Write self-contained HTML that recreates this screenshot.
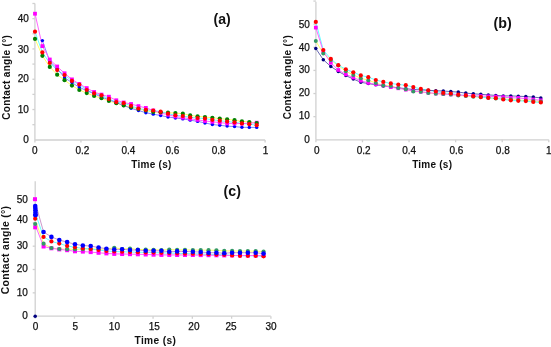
<!DOCTYPE html>
<html><head><meta charset="utf-8"><style>
html,body{margin:0;padding:0;background:#fff;}
svg{display:block;filter:blur(0.35px);}
text{font-family:"Liberation Sans",sans-serif;fill:#111;}
text.n{stroke:#111;stroke-width:0.25px;}
</style></head><body>
<svg width="551" height="347" viewBox="0 0 551 347">
<rect width="551" height="347" fill="#fff"/>
<line x1="34.9" y1="3.5" x2="34.9" y2="140.0" stroke="#d0d0d0" stroke-width="1.3"/>
<line x1="34.9" y1="140.0" x2="265.1" y2="140.0" stroke="#d0d0d0" stroke-width="1.3"/>
<line x1="32.4" y1="124.69" x2="34.9" y2="124.69" stroke="#d0d0d0" stroke-width="1.3"/>
<line x1="32.4" y1="109.54" x2="34.9" y2="109.54" stroke="#d0d0d0" stroke-width="1.3"/>
<line x1="32.4" y1="94.39" x2="34.9" y2="94.39" stroke="#d0d0d0" stroke-width="1.3"/>
<line x1="32.4" y1="79.24" x2="34.9" y2="79.24" stroke="#d0d0d0" stroke-width="1.3"/>
<line x1="32.4" y1="64.09" x2="34.9" y2="64.09" stroke="#d0d0d0" stroke-width="1.3"/>
<line x1="32.4" y1="48.94" x2="34.9" y2="48.94" stroke="#d0d0d0" stroke-width="1.3"/>
<line x1="32.4" y1="33.79" x2="34.9" y2="33.79" stroke="#d0d0d0" stroke-width="1.3"/>
<line x1="32.4" y1="18.64" x2="34.9" y2="18.64" stroke="#d0d0d0" stroke-width="1.3"/>
<line x1="32.4" y1="3.49" x2="34.9" y2="3.49" stroke="#d0d0d0" stroke-width="1.3"/>
<line x1="34.90" y1="140.0" x2="34.90" y2="142.5" stroke="#d0d0d0" stroke-width="1.3"/>
<line x1="80.94" y1="140.0" x2="80.94" y2="142.5" stroke="#d0d0d0" stroke-width="1.3"/>
<line x1="126.98" y1="140.0" x2="126.98" y2="142.5" stroke="#d0d0d0" stroke-width="1.3"/>
<line x1="173.02" y1="140.0" x2="173.02" y2="142.5" stroke="#d0d0d0" stroke-width="1.3"/>
<line x1="219.06" y1="140.0" x2="219.06" y2="142.5" stroke="#d0d0d0" stroke-width="1.3"/>
<line x1="265.10" y1="140.0" x2="265.10" y2="142.5" stroke="#d0d0d0" stroke-width="1.3"/>
<text class="n" x="28.80" y="142.95" font-size="10" text-anchor="end" font-weight="normal" >0</text>
<text class="n" x="28.80" y="113.25" font-size="10" text-anchor="end" font-weight="normal" >10</text>
<text class="n" x="28.80" y="82.05" font-size="10" text-anchor="end" font-weight="normal" >20</text>
<text class="n" x="28.80" y="53.00" font-size="10" text-anchor="end" font-weight="normal" >30</text>
<text class="n" x="28.80" y="21.75" font-size="10" text-anchor="end" font-weight="normal" >40</text>
<text class="n" x="34.80" y="153.85" font-size="10" text-anchor="middle" font-weight="normal" >0</text>
<text class="n" x="82.40" y="153.85" font-size="10" text-anchor="middle" font-weight="normal" >0.2</text>
<text class="n" x="128.40" y="153.85" font-size="10" text-anchor="middle" font-weight="normal" >0.4</text>
<text class="n" x="172.40" y="153.85" font-size="10" text-anchor="middle" font-weight="normal" >0.6</text>
<text class="n" x="218.60" y="153.85" font-size="10" text-anchor="middle" font-weight="normal" >0.8</text>
<text class="n" x="265.60" y="153.85" font-size="10" text-anchor="middle" font-weight="normal" >1</text>
<text x="151.30" y="167.60" font-size="10" text-anchor="middle" font-weight="bold" textLength="40.2" lengthAdjust="spacing">Time (s)</text>
<text x="10.00" y="77.40" font-size="10" text-anchor="middle" font-weight="bold" transform="rotate(-90 10.0 77.4)" textLength="84.6" lengthAdjust="spacing">Contact angle (°)</text>
<text x="222.20" y="23.90" font-size="14" text-anchor="middle" font-weight="bold" textLength="17.2" lengthAdjust="spacingAndGlyphs">(a)</text>
<polyline points="35.00,38.90 42.39,55.80 49.78,66.90 57.17,74.70 64.56,80.20 71.95,85.60 79.34,90.00 86.73,93.10 94.12,96.00 101.51,98.20 108.90,101.00 116.29,103.20 123.68,105.40 131.07,107.20 138.46,109.00 145.85,110.50 153.24,112.00 160.63,112.35 168.02,112.70 175.41,113.10 182.80,113.70 190.19,115.40 197.58,116.30 204.97,117.05 212.36,117.80 219.75,118.55 227.14,119.30 234.53,120.20 241.92,121.30 249.31,122.00 256.70,123.10" fill="none" stroke="#ffff66" stroke-width="1.0" stroke-opacity="1.0" stroke-linejoin="round"/>
<polyline points="35.00,31.70 42.39,52.40 49.78,63.00 57.17,70.10 64.56,75.10 71.95,80.90 79.34,84.50 86.73,90.00 94.12,93.40 101.51,95.30 108.90,98.90 116.29,102.10 123.68,103.20 131.07,105.80 138.46,108.50 145.85,109.80 153.24,110.50 160.63,111.70 168.02,113.70 175.41,115.30 182.80,116.00 190.19,117.30 197.58,118.00 204.97,118.60 212.36,119.80 219.75,120.70 227.14,121.60 234.53,122.30 241.92,123.40 249.31,124.20 256.70,125.20" fill="none" stroke="#66ffff" stroke-width="1.0" stroke-opacity="1.0" stroke-linejoin="round"/>
<polyline points="42.39,40.60 49.78,61.50 57.17,68.50 64.56,77.70 71.95,82.55 79.34,87.40 86.73,90.60 94.12,93.80 101.51,97.00 108.90,99.83 116.29,102.65 123.68,105.47 131.07,108.30 138.46,110.50 145.85,112.70 153.24,114.13 160.63,115.57 168.02,117.00 175.41,117.95 182.80,118.90 190.19,120.15 197.58,121.40 204.97,122.95 212.36,124.50 219.75,125.30 227.14,126.10 234.53,126.60 241.92,127.30 249.31,127.40 256.70,127.40" fill="none" stroke="#6666ff" stroke-width="0.8" stroke-opacity="1.0" stroke-linejoin="round"/>
<polyline points="35.00,13.70 42.39,46.10 49.78,59.50 57.17,66.50 64.56,73.30 71.95,79.40 79.34,84.00 86.73,88.10 94.12,92.00 101.51,94.60 108.90,96.70 116.29,100.30 123.68,102.50 131.07,104.00 138.46,106.10 145.85,107.90 153.24,110.45 160.63,113.00 168.02,114.75 175.41,116.50 182.80,117.65 190.19,118.80 197.58,119.90 204.97,121.00 212.36,121.80 219.75,122.60 227.14,123.40 234.53,123.50 241.92,123.60 249.31,123.15 256.70,122.70" fill="none" stroke="#ff66ff" stroke-width="1.0" stroke-opacity="1.0" stroke-linejoin="round"/>
<circle cx="42.39" cy="40.60" r="1.7" fill="#0000ff"/>
<circle cx="49.78" cy="61.50" r="1.7" fill="#0000ff"/>
<circle cx="57.17" cy="68.50" r="1.7" fill="#0000ff"/>
<circle cx="64.56" cy="77.70" r="1.7" fill="#0000ff"/>
<circle cx="71.95" cy="82.55" r="1.7" fill="#0000ff"/>
<circle cx="79.34" cy="87.40" r="1.7" fill="#0000ff"/>
<circle cx="86.73" cy="90.60" r="1.7" fill="#0000ff"/>
<circle cx="94.12" cy="93.80" r="1.7" fill="#0000ff"/>
<circle cx="101.51" cy="97.00" r="1.7" fill="#0000ff"/>
<circle cx="108.90" cy="99.83" r="1.7" fill="#0000ff"/>
<circle cx="116.29" cy="102.65" r="1.7" fill="#0000ff"/>
<circle cx="123.68" cy="105.47" r="1.7" fill="#0000ff"/>
<circle cx="131.07" cy="108.30" r="1.7" fill="#0000ff"/>
<circle cx="138.46" cy="110.50" r="1.7" fill="#0000ff"/>
<circle cx="145.85" cy="112.70" r="1.7" fill="#0000ff"/>
<circle cx="153.24" cy="114.13" r="1.7" fill="#0000ff"/>
<circle cx="160.63" cy="115.57" r="1.7" fill="#0000ff"/>
<circle cx="168.02" cy="117.00" r="1.7" fill="#0000ff"/>
<circle cx="175.41" cy="117.95" r="1.7" fill="#0000ff"/>
<circle cx="182.80" cy="118.90" r="1.7" fill="#0000ff"/>
<circle cx="190.19" cy="120.15" r="1.7" fill="#0000ff"/>
<circle cx="197.58" cy="121.40" r="1.7" fill="#0000ff"/>
<circle cx="204.97" cy="122.95" r="1.7" fill="#0000ff"/>
<circle cx="212.36" cy="124.50" r="1.7" fill="#0000ff"/>
<circle cx="219.75" cy="125.30" r="1.7" fill="#0000ff"/>
<circle cx="227.14" cy="126.10" r="1.7" fill="#0000ff"/>
<circle cx="234.53" cy="126.60" r="1.7" fill="#0000ff"/>
<circle cx="241.92" cy="127.30" r="1.7" fill="#0000ff"/>
<circle cx="249.31" cy="127.40" r="1.7" fill="#0000ff"/>
<circle cx="256.70" cy="127.40" r="1.7" fill="#0000ff"/>
<rect x="33.10" y="11.80" width="3.8" height="3.8" fill="#ff00ff"/>
<rect x="40.49" y="44.20" width="3.8" height="3.8" fill="#ff00ff"/>
<rect x="47.88" y="57.60" width="3.8" height="3.8" fill="#ff00ff"/>
<rect x="55.27" y="64.60" width="3.8" height="3.8" fill="#ff00ff"/>
<rect x="62.66" y="71.40" width="3.8" height="3.8" fill="#ff00ff"/>
<rect x="70.05" y="77.50" width="3.8" height="3.8" fill="#ff00ff"/>
<rect x="77.44" y="82.10" width="3.8" height="3.8" fill="#ff00ff"/>
<rect x="84.83" y="86.20" width="3.8" height="3.8" fill="#ff00ff"/>
<rect x="92.22" y="90.10" width="3.8" height="3.8" fill="#ff00ff"/>
<rect x="99.61" y="92.70" width="3.8" height="3.8" fill="#ff00ff"/>
<rect x="107.00" y="94.80" width="3.8" height="3.8" fill="#ff00ff"/>
<rect x="114.39" y="98.40" width="3.8" height="3.8" fill="#ff00ff"/>
<rect x="121.78" y="100.60" width="3.8" height="3.8" fill="#ff00ff"/>
<rect x="129.17" y="102.10" width="3.8" height="3.8" fill="#ff00ff"/>
<rect x="136.56" y="104.20" width="3.8" height="3.8" fill="#ff00ff"/>
<rect x="143.95" y="106.00" width="3.8" height="3.8" fill="#ff00ff"/>
<rect x="151.34" y="108.55" width="3.8" height="3.8" fill="#ff00ff"/>
<rect x="158.73" y="111.10" width="3.8" height="3.8" fill="#ff00ff"/>
<rect x="166.12" y="112.85" width="3.8" height="3.8" fill="#ff00ff"/>
<rect x="173.51" y="114.60" width="3.8" height="3.8" fill="#ff00ff"/>
<rect x="180.90" y="115.75" width="3.8" height="3.8" fill="#ff00ff"/>
<rect x="188.29" y="116.90" width="3.8" height="3.8" fill="#ff00ff"/>
<rect x="195.68" y="118.00" width="3.8" height="3.8" fill="#ff00ff"/>
<rect x="203.07" y="119.10" width="3.8" height="3.8" fill="#ff00ff"/>
<rect x="210.46" y="119.90" width="3.8" height="3.8" fill="#ff00ff"/>
<rect x="217.85" y="120.70" width="3.8" height="3.8" fill="#ff00ff"/>
<rect x="225.24" y="121.50" width="3.8" height="3.8" fill="#ff00ff"/>
<rect x="232.63" y="121.60" width="3.8" height="3.8" fill="#ff00ff"/>
<rect x="240.02" y="121.70" width="3.8" height="3.8" fill="#ff00ff"/>
<rect x="247.41" y="121.25" width="3.8" height="3.8" fill="#ff00ff"/>
<rect x="254.80" y="120.80" width="3.8" height="3.8" fill="#ff00ff"/>
<circle cx="35.00" cy="38.90" r="2.1" fill="#008000"/>
<circle cx="42.39" cy="55.80" r="2.1" fill="#008000"/>
<circle cx="49.78" cy="66.90" r="2.1" fill="#008000"/>
<circle cx="57.17" cy="74.70" r="2.1" fill="#008000"/>
<circle cx="64.56" cy="80.20" r="2.1" fill="#008000"/>
<circle cx="71.95" cy="85.60" r="2.1" fill="#008000"/>
<circle cx="79.34" cy="90.00" r="2.1" fill="#008000"/>
<circle cx="86.73" cy="93.10" r="2.1" fill="#008000"/>
<circle cx="94.12" cy="96.00" r="2.1" fill="#008000"/>
<circle cx="101.51" cy="98.20" r="2.1" fill="#008000"/>
<circle cx="108.90" cy="101.00" r="2.1" fill="#008000"/>
<circle cx="116.29" cy="103.20" r="2.1" fill="#008000"/>
<circle cx="123.68" cy="105.40" r="2.1" fill="#008000"/>
<circle cx="131.07" cy="107.20" r="2.1" fill="#008000"/>
<circle cx="138.46" cy="109.00" r="2.1" fill="#008000"/>
<circle cx="145.85" cy="110.50" r="2.1" fill="#008000"/>
<circle cx="153.24" cy="112.00" r="2.1" fill="#008000"/>
<circle cx="160.63" cy="112.35" r="2.1" fill="#008000"/>
<circle cx="168.02" cy="112.70" r="2.1" fill="#008000"/>
<circle cx="175.41" cy="113.10" r="2.1" fill="#008000"/>
<circle cx="182.80" cy="113.70" r="2.1" fill="#008000"/>
<circle cx="190.19" cy="115.40" r="2.1" fill="#008000"/>
<circle cx="197.58" cy="116.30" r="2.1" fill="#008000"/>
<circle cx="204.97" cy="117.05" r="2.1" fill="#008000"/>
<circle cx="212.36" cy="117.80" r="2.1" fill="#008000"/>
<circle cx="219.75" cy="118.55" r="2.1" fill="#008000"/>
<circle cx="227.14" cy="119.30" r="2.1" fill="#008000"/>
<circle cx="234.53" cy="120.20" r="2.1" fill="#008000"/>
<circle cx="241.92" cy="121.30" r="2.1" fill="#008000"/>
<circle cx="249.31" cy="122.00" r="2.1" fill="#008000"/>
<circle cx="256.70" cy="123.10" r="2.1" fill="#008000"/>
<circle cx="35.00" cy="31.70" r="2.1" fill="#ff0000"/>
<circle cx="42.39" cy="52.40" r="2.1" fill="#ff0000"/>
<circle cx="49.78" cy="63.00" r="2.1" fill="#ff0000"/>
<circle cx="57.17" cy="70.10" r="2.1" fill="#ff0000"/>
<circle cx="64.56" cy="75.10" r="2.1" fill="#ff0000"/>
<circle cx="71.95" cy="80.90" r="2.1" fill="#ff0000"/>
<circle cx="79.34" cy="84.50" r="2.1" fill="#ff0000"/>
<circle cx="86.73" cy="90.00" r="2.1" fill="#ff0000"/>
<circle cx="94.12" cy="93.40" r="2.1" fill="#ff0000"/>
<circle cx="101.51" cy="95.30" r="2.1" fill="#ff0000"/>
<circle cx="108.90" cy="98.90" r="2.1" fill="#ff0000"/>
<circle cx="116.29" cy="102.10" r="2.1" fill="#ff0000"/>
<circle cx="123.68" cy="103.20" r="2.1" fill="#ff0000"/>
<circle cx="131.07" cy="105.80" r="2.1" fill="#ff0000"/>
<circle cx="138.46" cy="108.50" r="2.1" fill="#ff0000"/>
<circle cx="145.85" cy="109.80" r="2.1" fill="#ff0000"/>
<circle cx="153.24" cy="110.50" r="2.1" fill="#ff0000"/>
<circle cx="160.63" cy="111.70" r="2.1" fill="#ff0000"/>
<circle cx="168.02" cy="113.70" r="2.1" fill="#ff0000"/>
<circle cx="175.41" cy="115.30" r="2.1" fill="#ff0000"/>
<circle cx="182.80" cy="116.00" r="2.1" fill="#ff0000"/>
<circle cx="190.19" cy="117.30" r="2.1" fill="#ff0000"/>
<circle cx="197.58" cy="118.00" r="2.1" fill="#ff0000"/>
<circle cx="204.97" cy="118.60" r="2.1" fill="#ff0000"/>
<circle cx="212.36" cy="119.80" r="2.1" fill="#ff0000"/>
<circle cx="219.75" cy="120.70" r="2.1" fill="#ff0000"/>
<circle cx="227.14" cy="121.60" r="2.1" fill="#ff0000"/>
<circle cx="234.53" cy="122.30" r="2.1" fill="#ff0000"/>
<circle cx="241.92" cy="123.40" r="2.1" fill="#ff0000"/>
<circle cx="249.31" cy="124.20" r="2.1" fill="#ff0000"/>
<circle cx="256.70" cy="125.20" r="2.1" fill="#ff0000"/>
<line x1="315.9" y1="1.7" x2="315.9" y2="139.8" stroke="#d0d0d0" stroke-width="1.3"/>
<line x1="315.9" y1="139.8" x2="548.8" y2="139.8" stroke="#d0d0d0" stroke-width="1.3"/>
<line x1="313.4" y1="116.66" x2="315.9" y2="116.66" stroke="#d0d0d0" stroke-width="1.3"/>
<line x1="313.4" y1="93.54" x2="315.9" y2="93.54" stroke="#d0d0d0" stroke-width="1.3"/>
<line x1="313.4" y1="70.42" x2="315.9" y2="70.42" stroke="#d0d0d0" stroke-width="1.3"/>
<line x1="313.4" y1="47.30" x2="315.9" y2="47.30" stroke="#d0d0d0" stroke-width="1.3"/>
<line x1="313.4" y1="24.18" x2="315.9" y2="24.18" stroke="#d0d0d0" stroke-width="1.3"/>
<line x1="313.4" y1="1.06" x2="315.9" y2="1.06" stroke="#d0d0d0" stroke-width="1.3"/>
<line x1="315.90" y1="139.8" x2="315.90" y2="142.3" stroke="#d0d0d0" stroke-width="1.3"/>
<line x1="362.48" y1="139.8" x2="362.48" y2="142.3" stroke="#d0d0d0" stroke-width="1.3"/>
<line x1="409.06" y1="139.8" x2="409.06" y2="142.3" stroke="#d0d0d0" stroke-width="1.3"/>
<line x1="455.64" y1="139.8" x2="455.64" y2="142.3" stroke="#d0d0d0" stroke-width="1.3"/>
<line x1="502.22" y1="139.8" x2="502.22" y2="142.3" stroke="#d0d0d0" stroke-width="1.3"/>
<line x1="548.80" y1="139.8" x2="548.80" y2="142.3" stroke="#d0d0d0" stroke-width="1.3"/>
<text class="n" x="309.80" y="142.55" font-size="10" text-anchor="end" font-weight="normal" >0</text>
<text class="n" x="309.80" y="119.45" font-size="10" text-anchor="end" font-weight="normal" >10</text>
<text class="n" x="309.80" y="95.75" font-size="10" text-anchor="end" font-weight="normal" >20</text>
<text class="n" x="309.80" y="73.35" font-size="10" text-anchor="end" font-weight="normal" >30</text>
<text class="n" x="309.80" y="51.35" font-size="10" text-anchor="end" font-weight="normal" >40</text>
<text class="n" x="309.80" y="27.55" font-size="10" text-anchor="end" font-weight="normal" >50</text>
<text class="n" x="316.80" y="153.95" font-size="10" text-anchor="middle" font-weight="normal" >0</text>
<text class="n" x="363.60" y="153.95" font-size="10" text-anchor="middle" font-weight="normal" >0.2</text>
<text class="n" x="409.20" y="153.95" font-size="10" text-anchor="middle" font-weight="normal" >0.4</text>
<text class="n" x="456.40" y="153.95" font-size="10" text-anchor="middle" font-weight="normal" >0.6</text>
<text class="n" x="502.80" y="153.95" font-size="10" text-anchor="middle" font-weight="normal" >0.8</text>
<text class="n" x="548.80" y="153.95" font-size="10" text-anchor="middle" font-weight="normal" >1</text>
<text x="432.10" y="167.50" font-size="10" text-anchor="middle" font-weight="bold" textLength="39.8" lengthAdjust="spacing">Time (s)</text>
<text x="291.00" y="77.25" font-size="10" text-anchor="middle" font-weight="bold" transform="rotate(-90 291.0 77.25)" textLength="84.0" lengthAdjust="spacing">Contact angle (°)</text>
<text x="502.70" y="28.00" font-size="14" text-anchor="middle" font-weight="bold" textLength="18.2" lengthAdjust="spacingAndGlyphs">(b)</text>
<polyline points="315.80,41.10 323.30,53.40 330.80,60.00 338.30,65.60 345.80,71.20 353.30,75.00 360.80,78.20 368.30,80.30 375.80,82.90 383.30,85.40 390.80,86.00 398.30,88.10 405.80,89.30 413.30,91.50 420.80,91.80 428.30,92.90 435.80,93.70 443.30,94.00 450.80,94.50 458.30,95.40 465.80,96.00 473.30,96.65 480.80,97.30 488.30,97.87 495.80,98.43 503.30,99.00 510.80,99.50 518.30,100.00 525.80,100.50 533.30,101.00 540.80,101.50" fill="none" stroke="#ffff66" stroke-width="1.0" stroke-opacity="1.0" stroke-linejoin="round"/>
<polyline points="315.80,21.90 323.30,50.10 330.80,58.90 338.30,65.20 345.80,69.30 353.30,72.30 360.80,75.40 368.30,77.20 375.80,80.00 383.30,81.90 390.80,83.40 398.30,84.50 405.80,85.20 413.30,87.10 420.80,88.90 428.30,90.30 435.80,91.50 443.30,92.90 450.80,93.50 458.30,94.70 465.80,95.40 473.30,96.20 480.80,97.10 488.30,97.90 495.80,98.20 503.30,99.50 510.80,100.30 518.30,100.80 525.80,101.10 533.30,102.00 540.80,102.40" fill="none" stroke="#66ffff" stroke-width="1.0" stroke-opacity="1.0" stroke-linejoin="round"/>
<polyline points="315.80,48.50 323.30,59.70 330.80,66.50 338.30,71.40 345.80,75.60 353.30,79.00 360.80,82.30 368.30,83.55 375.80,84.80 383.30,85.90 390.80,87.00 398.30,87.83 405.80,88.67 413.30,89.50 420.80,89.90 428.30,90.30 435.80,90.70 443.30,91.00 450.80,91.60 458.30,92.10 465.80,93.10 473.30,93.80 480.80,94.30 488.30,94.90 495.80,95.40 503.30,95.90 510.80,95.90 518.30,96.20 525.80,96.60 533.30,97.10 540.80,97.90" fill="none" stroke="#4040a0" stroke-width="0.8" stroke-opacity="1.0" stroke-linejoin="round"/>
<polyline points="315.80,27.60 323.30,51.50 330.80,62.80 338.30,70.00 345.80,74.40 353.30,77.50 360.80,80.70 368.30,82.90 375.80,84.30 383.30,85.50 390.80,87.10 398.30,88.30 405.80,89.65 413.30,91.00 420.80,91.83 428.30,92.67 435.80,93.50 443.30,94.00 450.80,94.50 458.30,95.00 465.80,95.50 473.30,95.78 480.80,96.05 488.30,96.32 495.80,96.60 503.30,97.10 510.80,97.90 518.30,97.90 525.80,98.70 533.30,99.50 540.80,100.30" fill="none" stroke="#ff66ff" stroke-width="1.0" stroke-opacity="1.0" stroke-linejoin="round"/>
<circle cx="315.80" cy="48.50" r="1.75" fill="#000080"/>
<circle cx="323.30" cy="59.70" r="1.75" fill="#000080"/>
<circle cx="330.80" cy="66.50" r="1.75" fill="#000080"/>
<circle cx="338.30" cy="71.40" r="1.75" fill="#000080"/>
<circle cx="345.80" cy="75.60" r="1.75" fill="#000080"/>
<circle cx="353.30" cy="79.00" r="1.75" fill="#000080"/>
<circle cx="360.80" cy="82.30" r="1.75" fill="#000080"/>
<circle cx="368.30" cy="83.55" r="1.75" fill="#000080"/>
<circle cx="375.80" cy="84.80" r="1.75" fill="#000080"/>
<circle cx="383.30" cy="85.90" r="1.75" fill="#000080"/>
<circle cx="390.80" cy="87.00" r="1.75" fill="#000080"/>
<circle cx="398.30" cy="87.83" r="1.75" fill="#000080"/>
<circle cx="405.80" cy="88.67" r="1.75" fill="#000080"/>
<circle cx="413.30" cy="89.50" r="1.75" fill="#000080"/>
<circle cx="420.80" cy="89.90" r="1.75" fill="#000080"/>
<circle cx="428.30" cy="90.30" r="1.75" fill="#000080"/>
<circle cx="435.80" cy="90.70" r="1.75" fill="#000080"/>
<circle cx="443.30" cy="91.00" r="1.75" fill="#000080"/>
<circle cx="450.80" cy="91.60" r="1.75" fill="#000080"/>
<circle cx="458.30" cy="92.10" r="1.75" fill="#000080"/>
<circle cx="465.80" cy="93.10" r="1.75" fill="#000080"/>
<circle cx="473.30" cy="93.80" r="1.75" fill="#000080"/>
<circle cx="480.80" cy="94.30" r="1.75" fill="#000080"/>
<circle cx="488.30" cy="94.90" r="1.75" fill="#000080"/>
<circle cx="495.80" cy="95.40" r="1.75" fill="#000080"/>
<circle cx="503.30" cy="95.90" r="1.75" fill="#000080"/>
<circle cx="510.80" cy="95.90" r="1.75" fill="#000080"/>
<circle cx="518.30" cy="96.20" r="1.75" fill="#000080"/>
<circle cx="525.80" cy="96.60" r="1.75" fill="#000080"/>
<circle cx="533.30" cy="97.10" r="1.75" fill="#000080"/>
<circle cx="540.80" cy="97.90" r="1.75" fill="#000080"/>
<rect x="313.95" y="25.75" width="3.7" height="3.7" fill="#ff00ff"/>
<rect x="321.45" y="49.65" width="3.7" height="3.7" fill="#ff00ff"/>
<rect x="328.95" y="60.95" width="3.7" height="3.7" fill="#ff00ff"/>
<rect x="336.45" y="68.15" width="3.7" height="3.7" fill="#ff00ff"/>
<rect x="343.95" y="72.55" width="3.7" height="3.7" fill="#ff00ff"/>
<rect x="351.45" y="75.65" width="3.7" height="3.7" fill="#ff00ff"/>
<rect x="358.95" y="78.85" width="3.7" height="3.7" fill="#ff00ff"/>
<rect x="366.45" y="81.05" width="3.7" height="3.7" fill="#ff00ff"/>
<rect x="373.95" y="82.45" width="3.7" height="3.7" fill="#ff00ff"/>
<rect x="381.45" y="83.65" width="3.7" height="3.7" fill="#ff00ff"/>
<rect x="388.95" y="85.25" width="3.7" height="3.7" fill="#ff00ff"/>
<rect x="396.45" y="86.45" width="3.7" height="3.7" fill="#ff00ff"/>
<rect x="403.95" y="87.80" width="3.7" height="3.7" fill="#ff00ff"/>
<rect x="411.45" y="89.15" width="3.7" height="3.7" fill="#ff00ff"/>
<rect x="418.95" y="89.98" width="3.7" height="3.7" fill="#ff00ff"/>
<rect x="426.45" y="90.82" width="3.7" height="3.7" fill="#ff00ff"/>
<rect x="433.95" y="91.65" width="3.7" height="3.7" fill="#ff00ff"/>
<rect x="441.45" y="92.15" width="3.7" height="3.7" fill="#ff00ff"/>
<rect x="448.95" y="92.65" width="3.7" height="3.7" fill="#ff00ff"/>
<rect x="456.45" y="93.15" width="3.7" height="3.7" fill="#ff00ff"/>
<rect x="463.95" y="93.65" width="3.7" height="3.7" fill="#ff00ff"/>
<rect x="471.45" y="93.93" width="3.7" height="3.7" fill="#ff00ff"/>
<rect x="478.95" y="94.20" width="3.7" height="3.7" fill="#ff00ff"/>
<rect x="486.45" y="94.47" width="3.7" height="3.7" fill="#ff00ff"/>
<rect x="493.95" y="94.75" width="3.7" height="3.7" fill="#ff00ff"/>
<rect x="501.45" y="95.25" width="3.7" height="3.7" fill="#ff00ff"/>
<rect x="508.95" y="96.05" width="3.7" height="3.7" fill="#ff00ff"/>
<rect x="516.45" y="96.05" width="3.7" height="3.7" fill="#ff00ff"/>
<rect x="523.95" y="96.85" width="3.7" height="3.7" fill="#ff00ff"/>
<rect x="531.45" y="97.65" width="3.7" height="3.7" fill="#ff00ff"/>
<rect x="538.95" y="98.45" width="3.7" height="3.7" fill="#ff00ff"/>
<circle cx="315.80" cy="41.10" r="2.0" fill="#339966"/>
<circle cx="323.30" cy="53.40" r="2.0" fill="#339966"/>
<circle cx="330.80" cy="60.00" r="2.0" fill="#339966"/>
<circle cx="338.30" cy="65.60" r="2.0" fill="#339966"/>
<circle cx="345.80" cy="71.20" r="2.0" fill="#339966"/>
<circle cx="353.30" cy="75.00" r="2.0" fill="#339966"/>
<circle cx="360.80" cy="78.20" r="2.0" fill="#339966"/>
<circle cx="368.30" cy="80.30" r="2.0" fill="#339966"/>
<circle cx="375.80" cy="82.90" r="2.0" fill="#339966"/>
<circle cx="383.30" cy="85.40" r="2.0" fill="#339966"/>
<circle cx="390.80" cy="86.00" r="2.0" fill="#339966"/>
<circle cx="398.30" cy="88.10" r="2.0" fill="#339966"/>
<circle cx="405.80" cy="89.30" r="2.0" fill="#339966"/>
<circle cx="413.30" cy="91.50" r="2.0" fill="#339966"/>
<circle cx="420.80" cy="91.80" r="2.0" fill="#339966"/>
<circle cx="428.30" cy="92.90" r="2.0" fill="#339966"/>
<circle cx="435.80" cy="93.70" r="2.0" fill="#339966"/>
<circle cx="443.30" cy="94.00" r="2.0" fill="#339966"/>
<circle cx="450.80" cy="94.50" r="2.0" fill="#339966"/>
<circle cx="458.30" cy="95.40" r="2.0" fill="#339966"/>
<circle cx="465.80" cy="96.00" r="2.0" fill="#339966"/>
<circle cx="473.30" cy="96.65" r="2.0" fill="#339966"/>
<circle cx="480.80" cy="97.30" r="2.0" fill="#339966"/>
<circle cx="488.30" cy="97.87" r="2.0" fill="#339966"/>
<circle cx="495.80" cy="98.43" r="2.0" fill="#339966"/>
<circle cx="503.30" cy="99.00" r="2.0" fill="#339966"/>
<circle cx="510.80" cy="99.50" r="2.0" fill="#339966"/>
<circle cx="518.30" cy="100.00" r="2.0" fill="#339966"/>
<circle cx="525.80" cy="100.50" r="2.0" fill="#339966"/>
<circle cx="533.30" cy="101.00" r="2.0" fill="#339966"/>
<circle cx="540.80" cy="101.50" r="2.0" fill="#339966"/>
<circle cx="315.80" cy="21.90" r="2.1" fill="#ff0000"/>
<circle cx="323.30" cy="50.10" r="2.1" fill="#ff0000"/>
<circle cx="330.80" cy="58.90" r="2.1" fill="#ff0000"/>
<circle cx="338.30" cy="65.20" r="2.1" fill="#ff0000"/>
<circle cx="345.80" cy="69.30" r="2.1" fill="#ff0000"/>
<circle cx="353.30" cy="72.30" r="2.1" fill="#ff0000"/>
<circle cx="360.80" cy="75.40" r="2.1" fill="#ff0000"/>
<circle cx="368.30" cy="77.20" r="2.1" fill="#ff0000"/>
<circle cx="375.80" cy="80.00" r="2.1" fill="#ff0000"/>
<circle cx="383.30" cy="81.90" r="2.1" fill="#ff0000"/>
<circle cx="390.80" cy="83.40" r="2.1" fill="#ff0000"/>
<circle cx="398.30" cy="84.50" r="2.1" fill="#ff0000"/>
<circle cx="405.80" cy="85.20" r="2.1" fill="#ff0000"/>
<circle cx="413.30" cy="87.10" r="2.1" fill="#ff0000"/>
<circle cx="420.80" cy="88.90" r="2.1" fill="#ff0000"/>
<circle cx="428.30" cy="90.30" r="2.1" fill="#ff0000"/>
<circle cx="435.80" cy="91.50" r="2.1" fill="#ff0000"/>
<circle cx="443.30" cy="92.90" r="2.1" fill="#ff0000"/>
<circle cx="450.80" cy="93.50" r="2.1" fill="#ff0000"/>
<circle cx="458.30" cy="94.70" r="2.1" fill="#ff0000"/>
<circle cx="465.80" cy="95.40" r="2.1" fill="#ff0000"/>
<circle cx="473.30" cy="96.20" r="2.1" fill="#ff0000"/>
<circle cx="480.80" cy="97.10" r="2.1" fill="#ff0000"/>
<circle cx="488.30" cy="97.90" r="2.1" fill="#ff0000"/>
<circle cx="495.80" cy="98.20" r="2.1" fill="#ff0000"/>
<circle cx="503.30" cy="99.50" r="2.1" fill="#ff0000"/>
<circle cx="510.80" cy="100.30" r="2.1" fill="#ff0000"/>
<circle cx="518.30" cy="100.80" r="2.1" fill="#ff0000"/>
<circle cx="525.80" cy="101.10" r="2.1" fill="#ff0000"/>
<circle cx="533.30" cy="102.00" r="2.1" fill="#ff0000"/>
<circle cx="540.80" cy="102.40" r="2.1" fill="#ff0000"/>
<line x1="35.2" y1="181.3" x2="35.2" y2="316.2" stroke="#d0d0d0" stroke-width="1.3"/>
<line x1="35.2" y1="316.2" x2="270.8" y2="316.2" stroke="#d0d0d0" stroke-width="1.3"/>
<line x1="32.7" y1="292.84" x2="35.2" y2="292.84" stroke="#d0d0d0" stroke-width="1.3"/>
<line x1="32.7" y1="269.51" x2="35.2" y2="269.51" stroke="#d0d0d0" stroke-width="1.3"/>
<line x1="32.7" y1="246.18" x2="35.2" y2="246.18" stroke="#d0d0d0" stroke-width="1.3"/>
<line x1="32.7" y1="222.85" x2="35.2" y2="222.85" stroke="#d0d0d0" stroke-width="1.3"/>
<line x1="32.7" y1="199.52" x2="35.2" y2="199.52" stroke="#d0d0d0" stroke-width="1.3"/>
<line x1="35.20" y1="316.2" x2="35.20" y2="318.7" stroke="#d0d0d0" stroke-width="1.3"/>
<line x1="74.49" y1="316.2" x2="74.49" y2="318.7" stroke="#d0d0d0" stroke-width="1.3"/>
<line x1="113.77" y1="316.2" x2="113.77" y2="318.7" stroke="#d0d0d0" stroke-width="1.3"/>
<line x1="153.06" y1="316.2" x2="153.06" y2="318.7" stroke="#d0d0d0" stroke-width="1.3"/>
<line x1="192.34" y1="316.2" x2="192.34" y2="318.7" stroke="#d0d0d0" stroke-width="1.3"/>
<line x1="231.62" y1="316.2" x2="231.62" y2="318.7" stroke="#d0d0d0" stroke-width="1.3"/>
<line x1="270.91" y1="316.2" x2="270.91" y2="318.7" stroke="#d0d0d0" stroke-width="1.3"/>
<text class="n" x="27.80" y="318.65" font-size="10" text-anchor="end" font-weight="normal" >0</text>
<text class="n" x="27.80" y="295.85" font-size="10" text-anchor="end" font-weight="normal" >10</text>
<text class="n" x="27.80" y="271.75" font-size="10" text-anchor="end" font-weight="normal" >20</text>
<text class="n" x="27.80" y="248.85" font-size="10" text-anchor="end" font-weight="normal" >30</text>
<text class="n" x="27.80" y="222.75" font-size="10" text-anchor="end" font-weight="normal" >40</text>
<text class="n" x="27.80" y="202.95" font-size="10" text-anchor="end" font-weight="normal" >50</text>
<text class="n" x="35.60" y="330.20" font-size="10" text-anchor="middle" font-weight="normal" >0</text>
<text class="n" x="75.30" y="330.20" font-size="10" text-anchor="middle" font-weight="normal" >5</text>
<text class="n" x="114.40" y="330.20" font-size="10" text-anchor="middle" font-weight="normal" >10</text>
<text class="n" x="154.30" y="330.20" font-size="10" text-anchor="middle" font-weight="normal" >15</text>
<text class="n" x="193.90" y="330.20" font-size="10" text-anchor="middle" font-weight="normal" >20</text>
<text class="n" x="231.00" y="330.20" font-size="10" text-anchor="middle" font-weight="normal" >25</text>
<text class="n" x="271.00" y="330.20" font-size="10" text-anchor="middle" font-weight="normal" >30</text>
<text x="155.20" y="344.30" font-size="10.2" text-anchor="middle" font-weight="bold" textLength="41.3" lengthAdjust="spacing">Time (s)</text>
<text x="9.20" y="250.10" font-size="10.4" text-anchor="middle" font-weight="bold" transform="rotate(-90 9.2 250.1)" textLength="88.3" lengthAdjust="spacing">Contact angle (°)</text>
<text x="232.20" y="196.00" font-size="14.6" text-anchor="middle" font-weight="bold" textLength="17.3" lengthAdjust="spacingAndGlyphs">(c)</text>
<polyline points="36.00,222.00 43.56,243.70 51.41,248.00 59.27,249.00 67.13,249.20 74.99,249.30 82.84,249.15 90.70,249.00 98.56,249.20 106.41,249.00 114.27,247.80 122.13,249.00 129.98,248.50 137.84,249.50 145.70,249.50 153.56,249.75 161.41,250.00 169.27,249.60 177.13,249.90 184.98,249.95 192.84,250.00 200.70,250.10 208.55,250.20 216.41,250.30 224.27,250.90 232.12,250.95 239.98,251.00 247.84,251.05 255.70,251.10 263.55,251.50" fill="none" stroke="#ffff66" stroke-width="1.0" stroke-opacity="1.0" stroke-linejoin="round"/>
<polyline points="36.00,215.00 43.56,236.90 51.41,241.40 59.27,243.60 67.13,245.90 74.99,247.30 82.84,248.30 90.70,249.00 98.56,250.00 106.41,251.00 114.27,251.50 122.13,251.75 129.98,252.00 137.84,252.20 145.70,252.40 153.56,252.60 161.41,252.83 169.27,253.07 177.13,253.30 184.98,253.53 192.84,253.77 200.70,254.00 208.55,254.27 216.41,254.53 224.27,254.80 232.12,255.40 239.98,255.80 247.84,255.80 255.70,255.80 263.55,256.30" fill="none" stroke="#66ffff" stroke-width="1.0" stroke-opacity="1.0" stroke-linejoin="round"/>
<polyline points="36.00,205.00 43.56,232.00 51.41,236.90 59.27,240.10 67.13,242.10 74.99,244.30 82.84,245.50 90.70,246.00 98.56,247.50 106.41,248.70 114.27,249.50 122.13,249.20 129.98,250.00 137.84,250.00 145.70,250.80 153.56,250.80 161.41,250.80 169.27,251.80 177.13,251.40 184.98,251.40 192.84,251.80 200.70,252.00 208.55,252.70 216.41,252.70 224.27,253.20 232.12,252.70 239.98,252.70 247.84,252.70 255.70,252.70 263.55,253.60" fill="none" stroke="#cc99cc" stroke-width="1.0" stroke-opacity="1.0" stroke-linejoin="round"/>
<polyline points="36.00,227.00 43.56,246.50 51.41,248.30 59.27,249.40 67.13,250.20 74.99,251.30 82.84,251.60 90.70,252.10 98.56,252.80 106.41,253.40 114.27,253.90 122.13,254.03 129.98,254.17 137.84,254.30 145.70,254.50 153.56,254.70 161.41,254.90 169.27,254.93 177.13,254.95 184.98,254.97 192.84,255.00 200.70,255.10 208.55,255.20 216.41,255.30 224.27,255.40 232.12,255.44 239.98,255.48 247.84,255.52 255.70,255.56 263.55,255.60" fill="none" stroke="#ff66ff" stroke-width="1.0" stroke-opacity="1.0" stroke-linejoin="round"/>
<rect x="33.20" y="225.30" width="4.0" height="4.0" fill="#ff00ff"/>
<rect x="41.56" y="244.50" width="4.0" height="4.0" fill="#ff00ff"/>
<rect x="49.41" y="246.30" width="4.0" height="4.0" fill="#ff00ff"/>
<rect x="57.27" y="247.40" width="4.0" height="4.0" fill="#ff00ff"/>
<rect x="65.13" y="248.20" width="4.0" height="4.0" fill="#ff00ff"/>
<rect x="72.99" y="249.30" width="4.0" height="4.0" fill="#ff00ff"/>
<rect x="80.84" y="249.60" width="4.0" height="4.0" fill="#ff00ff"/>
<rect x="88.70" y="250.10" width="4.0" height="4.0" fill="#ff00ff"/>
<rect x="96.56" y="250.80" width="4.0" height="4.0" fill="#ff00ff"/>
<rect x="104.41" y="251.40" width="4.0" height="4.0" fill="#ff00ff"/>
<rect x="112.27" y="251.90" width="4.0" height="4.0" fill="#ff00ff"/>
<rect x="120.13" y="252.03" width="4.0" height="4.0" fill="#ff00ff"/>
<rect x="127.98" y="252.17" width="4.0" height="4.0" fill="#ff00ff"/>
<rect x="135.84" y="252.30" width="4.0" height="4.0" fill="#ff00ff"/>
<rect x="143.70" y="252.50" width="4.0" height="4.0" fill="#ff00ff"/>
<rect x="151.56" y="252.70" width="4.0" height="4.0" fill="#ff00ff"/>
<rect x="159.41" y="252.90" width="4.0" height="4.0" fill="#ff00ff"/>
<rect x="167.27" y="252.93" width="4.0" height="4.0" fill="#ff00ff"/>
<rect x="175.13" y="252.95" width="4.0" height="4.0" fill="#ff00ff"/>
<rect x="182.98" y="252.97" width="4.0" height="4.0" fill="#ff00ff"/>
<rect x="190.84" y="253.00" width="4.0" height="4.0" fill="#ff00ff"/>
<rect x="198.70" y="253.10" width="4.0" height="4.0" fill="#ff00ff"/>
<rect x="206.55" y="253.20" width="4.0" height="4.0" fill="#ff00ff"/>
<rect x="214.41" y="253.30" width="4.0" height="4.0" fill="#ff00ff"/>
<rect x="222.27" y="253.40" width="4.0" height="4.0" fill="#ff00ff"/>
<rect x="230.12" y="253.44" width="4.0" height="4.0" fill="#ff00ff"/>
<rect x="237.98" y="253.48" width="4.0" height="4.0" fill="#ff00ff"/>
<rect x="245.84" y="253.52" width="4.0" height="4.0" fill="#ff00ff"/>
<rect x="253.70" y="253.56" width="4.0" height="4.0" fill="#ff00ff"/>
<rect x="261.55" y="253.60" width="4.0" height="4.0" fill="#ff00ff"/>
<rect x="33.00" y="197.20" width="4.0" height="4.0" fill="#ff00ff"/>
<circle cx="35.20" cy="224.00" r="2.1" fill="#339966"/>
<circle cx="43.56" cy="243.70" r="2.1" fill="#339966"/>
<circle cx="51.41" cy="248.00" r="2.1" fill="#339966"/>
<circle cx="59.27" cy="249.00" r="2.1" fill="#339966"/>
<circle cx="67.13" cy="249.20" r="2.1" fill="#339966"/>
<circle cx="74.99" cy="249.30" r="2.1" fill="#339966"/>
<circle cx="82.84" cy="249.15" r="2.1" fill="#339966"/>
<circle cx="90.70" cy="249.00" r="2.1" fill="#339966"/>
<circle cx="98.56" cy="249.20" r="2.1" fill="#339966"/>
<circle cx="106.41" cy="249.00" r="2.1" fill="#339966"/>
<circle cx="114.27" cy="247.80" r="2.1" fill="#339966"/>
<circle cx="122.13" cy="249.00" r="2.1" fill="#339966"/>
<circle cx="129.98" cy="248.50" r="2.1" fill="#339966"/>
<circle cx="137.84" cy="249.50" r="2.1" fill="#339966"/>
<circle cx="145.70" cy="249.50" r="2.1" fill="#339966"/>
<circle cx="153.56" cy="249.75" r="2.1" fill="#339966"/>
<circle cx="161.41" cy="250.00" r="2.1" fill="#339966"/>
<circle cx="169.27" cy="249.60" r="2.1" fill="#339966"/>
<circle cx="177.13" cy="249.90" r="2.1" fill="#339966"/>
<circle cx="184.98" cy="249.95" r="2.1" fill="#339966"/>
<circle cx="192.84" cy="250.00" r="2.1" fill="#339966"/>
<circle cx="200.70" cy="250.10" r="2.1" fill="#339966"/>
<circle cx="208.55" cy="250.20" r="2.1" fill="#339966"/>
<circle cx="216.41" cy="250.30" r="2.1" fill="#339966"/>
<circle cx="224.27" cy="250.90" r="2.1" fill="#339966"/>
<circle cx="232.12" cy="250.95" r="2.1" fill="#339966"/>
<circle cx="239.98" cy="251.00" r="2.1" fill="#339966"/>
<circle cx="247.84" cy="251.05" r="2.1" fill="#339966"/>
<circle cx="255.70" cy="251.10" r="2.1" fill="#339966"/>
<circle cx="263.55" cy="251.50" r="2.1" fill="#339966"/>
<circle cx="35.20" cy="218.70" r="2.1" fill="#ff0000"/>
<circle cx="43.56" cy="236.90" r="2.1" fill="#ff0000"/>
<circle cx="51.41" cy="241.40" r="2.1" fill="#ff0000"/>
<circle cx="59.27" cy="243.60" r="2.1" fill="#ff0000"/>
<circle cx="67.13" cy="245.90" r="2.1" fill="#ff0000"/>
<circle cx="74.99" cy="247.30" r="2.1" fill="#ff0000"/>
<circle cx="82.84" cy="248.30" r="2.1" fill="#ff0000"/>
<circle cx="90.70" cy="249.00" r="2.1" fill="#ff0000"/>
<circle cx="98.56" cy="250.00" r="2.1" fill="#ff0000"/>
<circle cx="106.41" cy="251.00" r="2.1" fill="#ff0000"/>
<circle cx="114.27" cy="251.50" r="2.1" fill="#ff0000"/>
<circle cx="122.13" cy="251.75" r="2.1" fill="#ff0000"/>
<circle cx="129.98" cy="252.00" r="2.1" fill="#ff0000"/>
<circle cx="137.84" cy="252.20" r="2.1" fill="#ff0000"/>
<circle cx="145.70" cy="252.40" r="2.1" fill="#ff0000"/>
<circle cx="153.56" cy="252.60" r="2.1" fill="#ff0000"/>
<circle cx="161.41" cy="252.83" r="2.1" fill="#ff0000"/>
<circle cx="169.27" cy="253.07" r="2.1" fill="#ff0000"/>
<circle cx="177.13" cy="253.30" r="2.1" fill="#ff0000"/>
<circle cx="184.98" cy="253.53" r="2.1" fill="#ff0000"/>
<circle cx="192.84" cy="253.77" r="2.1" fill="#ff0000"/>
<circle cx="200.70" cy="254.00" r="2.1" fill="#ff0000"/>
<circle cx="208.55" cy="254.27" r="2.1" fill="#ff0000"/>
<circle cx="216.41" cy="254.53" r="2.1" fill="#ff0000"/>
<circle cx="224.27" cy="254.80" r="2.1" fill="#ff0000"/>
<circle cx="232.12" cy="255.40" r="2.1" fill="#ff0000"/>
<circle cx="239.98" cy="255.80" r="2.1" fill="#ff0000"/>
<circle cx="247.84" cy="255.80" r="2.1" fill="#ff0000"/>
<circle cx="255.70" cy="255.80" r="2.1" fill="#ff0000"/>
<circle cx="263.55" cy="256.30" r="2.1" fill="#ff0000"/>
<circle cx="35.20" cy="215.00" r="2.3" fill="#0000ff"/>
<circle cx="43.56" cy="232.00" r="2.3" fill="#0000ff"/>
<circle cx="51.41" cy="236.90" r="2.3" fill="#0000ff"/>
<circle cx="59.27" cy="240.10" r="2.3" fill="#0000ff"/>
<circle cx="67.13" cy="242.10" r="2.3" fill="#0000ff"/>
<circle cx="74.99" cy="244.30" r="2.3" fill="#0000ff"/>
<circle cx="82.84" cy="245.50" r="2.3" fill="#0000ff"/>
<circle cx="90.70" cy="246.00" r="2.3" fill="#0000ff"/>
<circle cx="98.56" cy="247.50" r="2.3" fill="#0000ff"/>
<circle cx="106.41" cy="248.70" r="2.3" fill="#0000ff"/>
<circle cx="114.27" cy="249.50" r="2.3" fill="#0000ff"/>
<circle cx="122.13" cy="249.20" r="2.3" fill="#0000ff"/>
<circle cx="129.98" cy="250.00" r="2.3" fill="#0000ff"/>
<circle cx="137.84" cy="250.00" r="2.3" fill="#0000ff"/>
<circle cx="145.70" cy="250.80" r="2.3" fill="#0000ff"/>
<circle cx="153.56" cy="250.80" r="2.3" fill="#0000ff"/>
<circle cx="161.41" cy="250.80" r="2.3" fill="#0000ff"/>
<circle cx="169.27" cy="251.80" r="2.3" fill="#0000ff"/>
<circle cx="177.13" cy="251.40" r="2.3" fill="#0000ff"/>
<circle cx="184.98" cy="251.40" r="2.3" fill="#0000ff"/>
<circle cx="192.84" cy="251.80" r="2.3" fill="#0000ff"/>
<circle cx="200.70" cy="252.00" r="2.3" fill="#0000ff"/>
<circle cx="208.55" cy="252.70" r="2.3" fill="#0000ff"/>
<circle cx="216.41" cy="252.70" r="2.3" fill="#0000ff"/>
<circle cx="224.27" cy="253.20" r="2.3" fill="#0000ff"/>
<circle cx="232.12" cy="252.70" r="2.3" fill="#0000ff"/>
<circle cx="239.98" cy="252.70" r="2.3" fill="#0000ff"/>
<circle cx="247.84" cy="252.70" r="2.3" fill="#0000ff"/>
<circle cx="255.70" cy="252.70" r="2.3" fill="#0000ff"/>
<circle cx="263.55" cy="253.60" r="2.3" fill="#0000ff"/>
<circle cx="35.20" cy="206.00" r="2.3" fill="#0000ff"/>
<circle cx="35.30" cy="208.00" r="2.3" fill="#0000ff"/>
<circle cx="35.40" cy="210.20" r="2.3" fill="#0000ff"/>
<circle cx="35.50" cy="212.50" r="2.3" fill="#0000ff"/>
<circle cx="35.70" cy="215.00" r="2.3" fill="#0000ff"/>
<circle cx="35.20" cy="316.20" r="1.8" fill="#000080"/>
</svg>
</body></html>
